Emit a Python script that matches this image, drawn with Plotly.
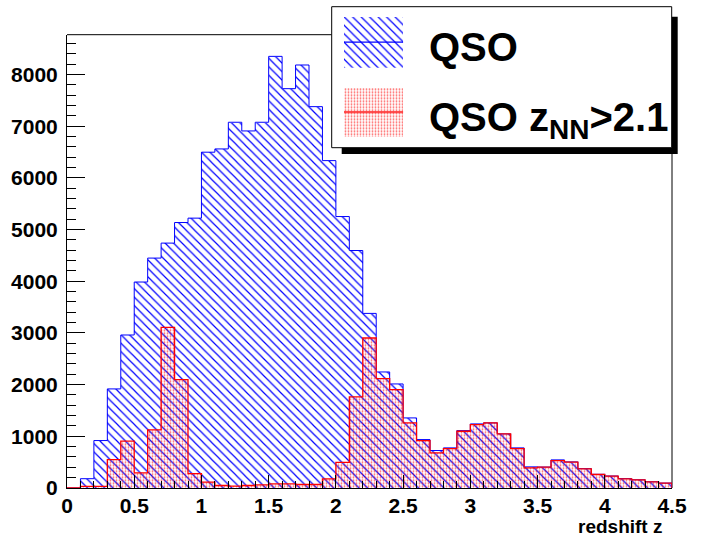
import plotly.graph_objects as go

# ---------------- data ----------------
bin_lows = [0.0, 0.1, 0.2, 0.3, 0.4, 0.5, 0.6, 0.7, 0.8, 0.9,
            1.0, 1.1, 1.2, 1.3, 1.4, 1.5, 1.6, 1.7, 1.8, 1.9,
            2.0, 2.1, 2.2, 2.3, 2.4, 2.5, 2.6, 2.7, 2.8, 2.9,
            3.0, 3.1, 3.2, 3.3, 3.4, 3.5, 3.6, 3.7, 3.8, 3.9,
            4.0, 4.1, 4.2, 4.3, 4.4]
bin_width = 0.1

qso_all = [0, 180, 918, 1917, 2960, 3985, 4448, 4738, 5136, 5221,
           6497, 6560, 7076, 6908, 7076, 8351, 7726, 8184, 7378, 6334,
           5252, 4595, 3378, 2245, 2013, 1356, 937, 725, 776, 1111,
           1240, 1260, 1047, 776, 409, 405, 544, 505, 375, 265,
           232, 182, 160, 121, 95]

qso_nn = [0, 30, 30, 550, 905, 293, 1124, 3108, 2097, 280,
          115, 48, 35, 48, 62, 81, 81, 68, 68, 175,
          495, 1762, 2902, 2116, 1903, 1260, 918, 680, 763, 1098,
          1227, 1260, 1047, 763, 390, 402, 531, 499, 370, 261,
          229, 177, 158, 119, 93]

x_tick_vals = [0, 0.5, 1, 1.5, 2, 2.5, 3, 3.5, 4, 4.5]
x_tick_text = ["0", "0.5", "1", "1.5", "2", "2.5", "3", "3.5", "4", "4.5"]
y_tick_vals = [0, 1000, 2000, 3000, 4000, 5000, 6000, 7000, 8000]
y_tick_text = ["0", "1000", "2000", "3000", "4000", "5000", "6000", "7000", "8000"]

legend_labels = ["QSO", "QSO z<sub>NN</sub>&gt;2.1"]
x_title = "redshift z"

# ---------------- layout geometry (pixels) ----------------
W, H = 712, 538
BOTTOM_MARGIN = 50
PH = H - BOTTOM_MARGIN          # paper height in px
L, R, T, B = 67, 672, 34.7, 488  # plot frame


def px(x):
    return x / W


def py(y):
    return (PH - y) / PH


FONT = "Liberation Sans, Arial, sans-serif"
CLEAR = "rgba(0,0,0,0)"

centers = [lo + bin_width / 2 for lo in bin_lows]
x_hi = bin_lows[-1] + bin_width


def step(vals):
    xs = [bin_lows[0]] + bin_lows + [x_hi, x_hi]
    ys = [0] + vals + [vals[-1], 0]
    return xs, ys


def hatch_marker():
    return dict(color=CLEAR, line_width=0,
                pattern=dict(shape="\\", size=6, solidity=0.2,
                             fgcolor="blue", bgcolor=CLEAR, fillmode="replace"))


def dots_marker():
    return dict(color=CLEAR, line_width=0,
                pattern=dict(shape=".", size=3, solidity=0.28,
                             fgcolor="rgba(255,0,0,0.6)", bgcolor=CLEAR,
                             fillmode="replace"))


fig = go.Figure()

# blue QSO histogram
fig.add_trace(go.Bar(x=centers, y=qso_all, width=bin_width,
                     marker=hatch_marker(), hoverinfo="skip"))
bx, by = step(qso_all)
fig.add_trace(go.Scatter(x=bx, y=by, mode="lines", line_shape="hv",
                         line=dict(color="blue", width=1), hoverinfo="skip"))

# red z_NN>2.1 histogram
fig.add_trace(go.Bar(x=centers, y=qso_nn, width=bin_width,
                     marker=dots_marker(), hoverinfo="skip"))
rx, ry = step(qso_nn)
fig.add_trace(go.Scatter(x=rx, y=ry, mode="lines", line_shape="hv",
                         line=dict(color="red", width=1.3), hoverinfo="skip"))

# legend glyphs on their own tiny axes
fig.add_trace(go.Bar(x=[0], y=[1], width=[1], xaxis="x2", yaxis="y2",
                     marker=hatch_marker(), hoverinfo="skip"))
fig.add_trace(go.Scatter(x=[-0.5, 0.5], y=[0.5, 0.5], xaxis="x2", yaxis="y2",
                         mode="lines", line=dict(color="blue", width=1.2),
                         hoverinfo="skip"))
fig.add_trace(go.Bar(x=[0], y=[1], width=[1], xaxis="x3", yaxis="y3",
                     marker=dots_marker(), hoverinfo="skip"))
fig.add_trace(go.Scatter(x=[-0.5, 0.5], y=[0.5, 0.5], xaxis="x3", yaxis="y3",
                         mode="lines", line=dict(color="rgba(255,40,40,0.8)", width=2.2),
                         hoverinfo="skip"))

tickfont = dict(family=FONT, size=21, color="black", weight="bold")

fig.update_layout(
    width=W, height=H,
    margin=dict(l=0, r=0, t=0, b=BOTTOM_MARGIN, pad=0),
    paper_bgcolor="white", plot_bgcolor=CLEAR,
    showlegend=False, barmode="overlay", bargap=0,
    xaxis=dict(domain=[px(L), px(R)], range=[0, 4.5], showline=True,
               linecolor="black", linewidth=1, ticks="inside", ticklen=13,
               tickwidth=1, tickcolor="black", tickmode="array",
               tickvals=x_tick_vals, ticktext=x_tick_text, tickfont=tickfont,
               minor=dict(ticks="inside", ticklen=7, tickmode="linear", tick0=0,
                          dtick=0.1, tickcolor="black", tickwidth=1, showgrid=False),
               showgrid=False, zeroline=False, automargin=False, fixedrange=True,
               ticklabelstandoff=-1),
    yaxis=dict(domain=[0, py(T)], range=[0, 8770], showline=True,
               linecolor="black", linewidth=1, ticks="inside", ticklen=18,
               tickwidth=1, tickcolor="black", tickmode="array",
               tickvals=y_tick_vals, ticktext=y_tick_text, tickfont=tickfont,
               minor=dict(ticks="inside", ticklen=9, tickmode="linear", tick0=0,
                          dtick=200, tickcolor="black", tickwidth=1, showgrid=False),
               showgrid=False, zeroline=False, automargin=False, fixedrange=True,
               ticklabelstandoff=4),
    xaxis2=dict(domain=[px(344), px(403.3)], range=[-0.5, 0.5], visible=False,
                anchor="y2", fixedrange=True),
    yaxis2=dict(domain=[py(67.7), py(16.7)], range=[0, 1], visible=False,
                anchor="x2", fixedrange=True),
    xaxis3=dict(domain=[px(344), px(403.3)], range=[-0.5, 0.5], visible=False,
                anchor="y3", fixedrange=True),
    yaxis3=dict(domain=[py(136.7), py(87.7)], range=[0, 1], visible=False,
                anchor="x3", fixedrange=True),
)

shapes = [
    # frame top and right (outside the legend)
    dict(type="line", xref="paper", yref="paper", x0=px(L), x1=px(331.7),
         y0=py(T), y1=py(T), line=dict(color="black", width=1), layer="below"),
    dict(type="line", xref="paper", yref="paper", x0=px(R), x1=px(R),
         y0=py(147.7), y1=py(B), line=dict(color="black", width=1), layer="below"),
    # legend shadow
    dict(type="rect", xref="paper", yref="paper", x0=px(341.7), x1=px(677.7),
         y0=py(154), y1=py(16.7), fillcolor="black", line_width=0, layer="below"),
    # legend box
    dict(type="rect", xref="paper", yref="paper", x0=px(331.7), x1=px(671.7),
         y0=py(147.7), y1=py(6.7), fillcolor="white",
         line=dict(color="black", width=1), layer="below"),
]
fig.update_layout(shapes=shapes)

legfont = dict(family=FONT, size=40, color="black", weight="bold")
fig.add_annotation(x=px(427), y=py(47), xref="paper", yref="paper",
                   text=legend_labels[0], showarrow=False, xanchor="left",
                   yanchor="middle", font=legfont)
fig.add_annotation(x=px(427), y=py(120), xref="paper", yref="paper",
                   text=legend_labels[1], showarrow=False, xanchor="left",
                   yanchor="middle", font=legfont)
fig.add_annotation(x=px(664), y=py(526), xref="paper", yref="paper",
                   text=x_title, showarrow=False, xanchor="right",
                   yanchor="middle",
                   font=dict(family=FONT, size=19, color="black", weight="bold"))

fig.write_html("out.html")
